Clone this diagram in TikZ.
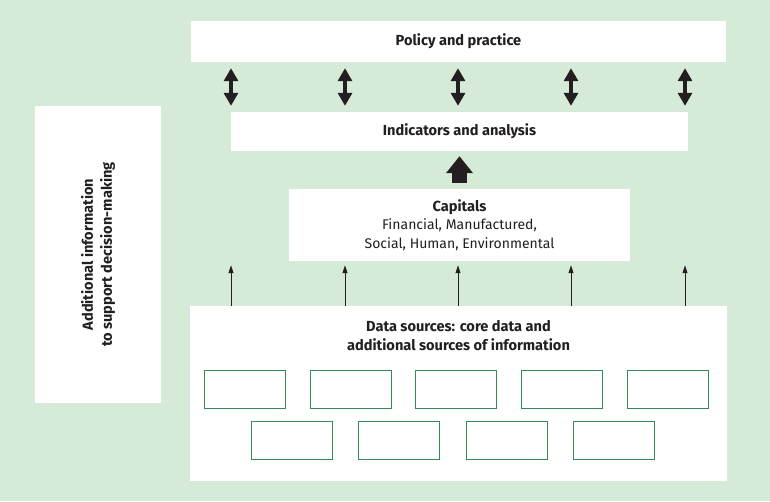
\documentclass[tikz,border=0pt]{standalone}
\usepackage{fontspec}
\setmainfont{Fira Sans}
\usetikzlibrary{arrows.meta}
\definecolor{bggreen}{RGB}{213,235,216}
\definecolor{boxgreen}{RGB}{50,138,84}
\definecolor{ink}{RGB}{35,31,32}
\newcommand{\diagfont}{\fontsize{14}{18.5}\selectfont}
\newcommand{\headfont}{\fontsize{14.6}{19}\selectfont\bfseries}

\begin{document}
\begin{tikzpicture}[x=1pt, y=-1pt,
		font=\diagfont,
		panel/.style={fill=white, inner sep=0pt, text=ink, align=center},
		heading/.style={font=\headfont},
		srcbox/.style={draw=boxgreen, line width=1.2pt, fill=white, minimum width=81pt, minimum height=38pt, inner sep=0pt},
		twoway/.style={line width=4pt, ink, {Triangle[width=14pt,length=13pt]}-{Triangle[width=14pt,length=13pt]}},
		bigup/.style={line width=15pt, ink, -{Triangle[width=26pt,length=17pt]}},
		thinup/.style={line width=0.9pt, ink, -{Triangle[width=5pt,length=8pt]}}]
	\fill[bggreen] (0,0) rectangle (770,501);
	\node[panel, heading, minimum width=535pt, minimum height=41pt] (policy) at (458.5,41.5) {Policy and practice};
	\node[panel, heading, minimum width=457pt, minimum height=39pt] (ind) at (459.5,131.5) {Indicators and analysis};
	\node[panel, minimum width=341pt, minimum height=72pt] (cap) at (459.5,225) {{\headfont Capitals}\\Financial, Manufactured,\\Social, Human, Environmental};
	\node[panel, minimum width=537pt, minimum height=175pt] (data) at (458.5,393.5) {};
	\node[text=ink, align=center, heading] (datatitle) at (458.5,336) {Data sources: core data and\\additional sources of information};
	\node[panel, heading, rotate=90, minimum width=297pt, minimum height=126pt] (extra) at (98,254.5) {Additional information\\to support decision-making};
	\foreach \x [count=\i] in {245,351,456,562,668}
		\node[srcbox] (srcA\i) at (\x,389.5) {};
	\foreach \x [count=\i] in {292,399,507,614}
		\node[srcbox] (srcB\i) at (\x,440.5) {};
	\foreach \x in {231,345,458,571,685}
		\draw[twoway, shorten <=6pt, shorten >=6pt] (policy.south -| \x,0) -- (ind.north -| \x,0);
	\draw[bigup, shorten <=6pt, shorten >=5pt] (cap.north) -- (ind.south);
	\foreach \x in {231,345,458,571,685}
		\draw[thinup, shorten >=4pt] (data.north -| \x,0) -- (cap.south -| \x,0);
\end{tikzpicture}
\end{document}
